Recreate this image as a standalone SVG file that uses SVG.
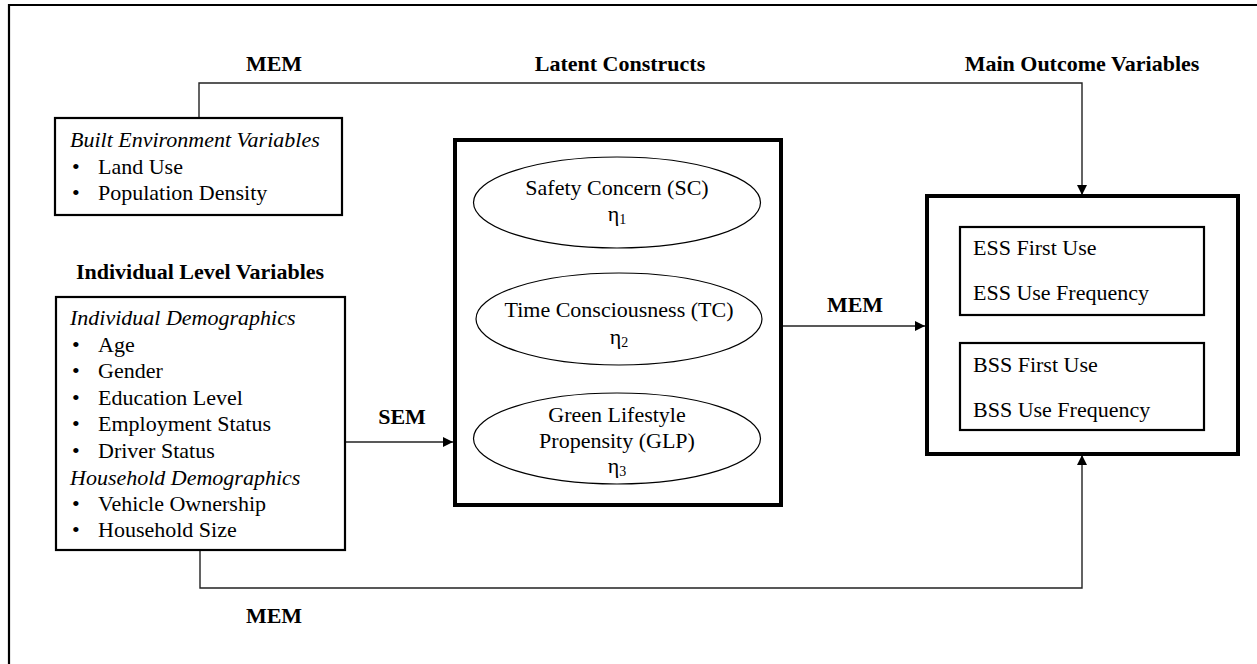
<svg xmlns="http://www.w3.org/2000/svg" width="1257" height="664" viewBox="0 0 1257 664">
<style>
text{font-family:"Liberation Serif","Times New Roman",serif;font-size:22px;fill:#000}
.b{font-weight:bold}
.i{font-style:italic}
.m{text-anchor:middle}
.box{fill:#fff;stroke:#000;stroke-width:2.2}
.thick{fill:#fff;stroke:#000;stroke-width:4}
.ell{fill:#fff;stroke:#000;stroke-width:1.2}
.con{fill:none;stroke:#222;stroke-width:1.4}
.sub{font-size:14px}
</style>
<defs>
<marker id="arr" viewBox="0 0 10 10" refX="10" refY="5" markerWidth="10" markerHeight="10" markerUnits="userSpaceOnUse" orient="auto">
<path d="M0,0 L10,5 L0,10 z" fill="#000"/>
</marker>
</defs>
<rect width="1257" height="664" fill="#fff"/>
<path d="M9,664 V5 H1257" fill="none" stroke="#000" stroke-width="2.2"/>

<g id="labels">
<text class="b m" x="274" y="71">MEM</text>
<text class="b m" x="620" y="71">Latent Constructs</text>
<text class="b m" x="1082" y="71">Main Outcome Variables</text>
<text class="b m" x="200" y="279">Individual Level Variables</text>
<text class="b m" x="402" y="424">SEM</text>
<text class="b m" x="855" y="312">MEM</text>
<text class="b m" x="274" y="623">MEM</text>
</g>

<g id="connectors">
<path class="con" d="M199,118 V83 H1082 V195" marker-end="url(#arr)"/>
<path class="con" d="M200,550 V588 H1082 V455" marker-end="url(#arr)"/>
<path class="con" d="M345,442 H453" marker-end="url(#arr)"/>
<path class="con" d="M783,326 H925" marker-end="url(#arr)"/>
</g>

<g id="built-environment">
<rect class="box" x="55" y="118" width="287" height="97"/>
<text class="i" x="70" y="147">Built Environment Variables</text>
<text x="72" y="174">•</text><text x="98" y="174">Land Use</text>
<text x="72" y="200">•</text><text x="98" y="200">Population Density</text>
</g>

<g id="individual-level">
<rect class="box" x="56" y="297" width="289" height="253"/>
<text class="i" x="70" y="325">Individual Demographics</text>
<text x="72" y="352">•</text><text x="98" y="352">Age</text>
<text x="72" y="378">•</text><text x="98" y="378">Gender</text>
<text x="72" y="405">•</text><text x="98" y="405">Education Level</text>
<text x="72" y="431">•</text><text x="98" y="431">Employment Status</text>
<text x="72" y="458">•</text><text x="98" y="458">Driver Status</text>
<text class="i" x="70" y="485">Household Demographics</text>
<text x="72" y="511">•</text><text x="98" y="511">Vehicle Ownership</text>
<text x="72" y="537">•</text><text x="98" y="537">Household Size</text>
</g>

<g id="latent-constructs">
<rect class="thick" x="455" y="140" width="326" height="365"/>
</g>

<g id="safety-concern">
<ellipse class="ell" cx="617" cy="202.5" rx="143.5" ry="45.5"/>
<text class="m" x="617" y="195">Safety Concern (SC)</text>
<text class="m" x="617" y="221">η<tspan class="sub" dy="3">1</tspan></text>
</g>

<g id="time-consciousness">
<ellipse class="ell" cx="619" cy="319" rx="143" ry="46"/>
<text class="m" x="619" y="317">Time Consciousness (TC)</text>
<text class="m" x="619" y="344">η<tspan class="sub" dy="3">2</tspan></text>
</g>

<g id="green-lifestyle">
<ellipse class="ell" cx="617" cy="438.5" rx="143.5" ry="45.5"/>
<text class="m" x="617" y="422">Green Lifestyle</text>
<text class="m" x="617" y="448">Propensity (GLP)</text>
<text class="m" x="617" y="473">η<tspan class="sub" dy="3">3</tspan></text>
</g>

<g id="outcome">
<rect class="thick" x="927" y="196" width="311" height="258"/>
</g>

<g id="ess">
<rect class="box" x="960" y="227" width="244" height="88"/>
<text x="973" y="255">ESS First Use</text>
<text x="973" y="300">ESS Use Frequency</text>
</g>

<g id="bss">
<rect class="box" x="960" y="343" width="244" height="87"/>
<text x="973" y="372">BSS First Use</text>
<text x="973" y="417">BSS Use Frequency</text>
</g>
</svg>
